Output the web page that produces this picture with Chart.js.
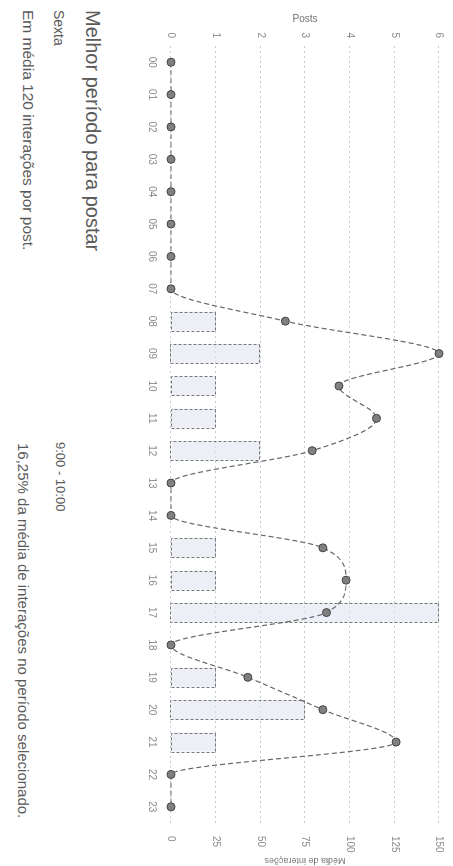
<!DOCTYPE html>
<html>
<head>
<meta charset="utf-8">
<script src="https://cdn.jsdelivr.net/npm/chart.js@4"></script>
<style>
  body { margin: 0; background: #fff; overflow: hidden; width: 453px; height: 866px; }
  #page {
    position: absolute; left: 453px; top: 0;
    width: 866px; height: 453px;
    transform-origin: 0 0; transform: rotate(90deg);
    font-family: "Liberation Sans", Arial, sans-serif; color: #5a5a5a;
  }
  #page canvas { position: absolute; left: 0; top: 0; }
  .txt { position: absolute; line-height: 1; white-space: nowrap; }
</style>
</head>
<body>
<div id="page">
  <canvas id="chart" width="866" height="310"></canvas>
  <div class="txt" style="left:10px;top:350px;font-size:20px">Melhor período para postar</div>
  <div class="txt" style="left:10px;top:387px;font-size:14px">Sexta</div>
  <div class="txt" style="left:10px;top:417px;font-size:15.5px">Em média 120 interações por post.</div>
  <div class="txt" style="left:442px;top:386px;font-size:13px">9:00 - 10:00</div>
  <div class="txt" style="left:443px;top:422px;font-size:15px">16,25% da média de interações no período selecionado.</div>
</div>
<script>
let hours = ['00','01','02','03','04','05','06','07','08','09','10','11','12','13','14','15','16','17','18','19','20','21','22','23']
let posts = [0,0,0,0,0,0,0,0,1,2,1,1,2,0,0,1,1,6,0,1,3,1,0,0]
let interacoes = [0,0,0,0,0,0,0,0,64,150,94,115,79,0,0,85,98,87,0,43,85,126,0,0]
let postsTicks = [0,1,2,3,4,5,6]
let interacoesTicks = [0,25,50,75,100,125,150]

// bordas tracejadas nas barras (BarElement nao faz dash)
const dashedBars = {
    id: 'dashedBars',
    afterDatasetDraw(chart, args) {
        if (args.index !== 0) return
        const ctx = chart.ctx
        ctx.save()
        ctx.setLineDash([3, 2])
        ctx.strokeStyle = '#777'
        ctx.lineWidth = 1
        args.meta.data.forEach((bar, i) => {
            if (!posts[i]) return
            const top = Math.min(bar.y, bar.base)
            ctx.strokeRect(Math.round(bar.x - bar.width / 2) + 0.5, Math.round(top) + 0.5, Math.round(bar.width), Math.round(Math.abs(bar.base - bar.y)))
        })
        ctx.restore()
    }
}

let ctx = document.getElementById('chart').getContext('2d')
let myChart = new Chart(ctx, {
    type: 'bar',
    data: {
        labels: hours,
        datasets: [{
            type: 'bar',
            label: 'Posts',
            data: posts,
            yAxisID: 'y',
            backgroundColor: 'rgba(225, 228, 242, 0.6)',
            borderWidth: 0,
            barPercentage: 0.65,
            categoryPercentage: 0.9,
            order: 2
        },
        {
            type: 'line',
            label: 'Média de interações',
            data: interacoes,
            yAxisID: 'y1',
            borderColor: '#666',
            borderWidth: 1.2,
            borderDash: [5, 3],
            cubicInterpolationMode: 'monotone',
            pointRadius: 4,
            pointBackgroundColor: '#808080',
            pointBorderColor: '#444',
            pointBorderWidth: 1,
            clip: false,
            order: 1
        }]
    },
    options: {
        responsive: false,
        animation: false,
        layout: { padding: { top: 12, left: 0, right: 0, bottom: 0 } },
        plugins: { legend: { display: false }, tooltip: { enabled: false } },
        scales: {
            x: {
                grid: { display: false },
                border: { display: false },
                ticks: { color: '#888', font: { size: 10 }, padding: 5, maxRotation: 0, autoSkip: false },
                afterFit: (s) => { s.height = 28 }
            },
            y: {
                position: 'left',
                min: 0, max: 6,
                afterBuildTicks: (s) => { s.ticks = postsTicks.map(v => ({ value: v })) },
                grid: { color: '#c4c8d8', drawTicks: false },
                border: { display: false, dash: [2, 3] },
                ticks: { color: '#888', font: { size: 10 }, padding: 8 },
                title: { display: true, text: 'Posts', color: '#777', font: { size: 10 }, padding: { top: 13, bottom: 0 } },
                afterFit: (s) => { s.width = 46 }
            },
            y1: {
                position: 'right',
                min: 0, max: 150,
                afterBuildTicks: (s) => { s.ticks = interacoesTicks.map(v => ({ value: v })) },
                grid: { display: false },
                border: { display: false },
                ticks: { color: '#888', font: { size: 10 }, padding: 5 },
                title: { display: true, text: 'Média de interações', color: '#777', font: { size: 9 }, padding: { top: 0, bottom: 0 } },
                afterFit: (s) => { s.width = 43 }
            }
        }
    },
    plugins: [dashedBars]
})
</script>
</body>
</html>
